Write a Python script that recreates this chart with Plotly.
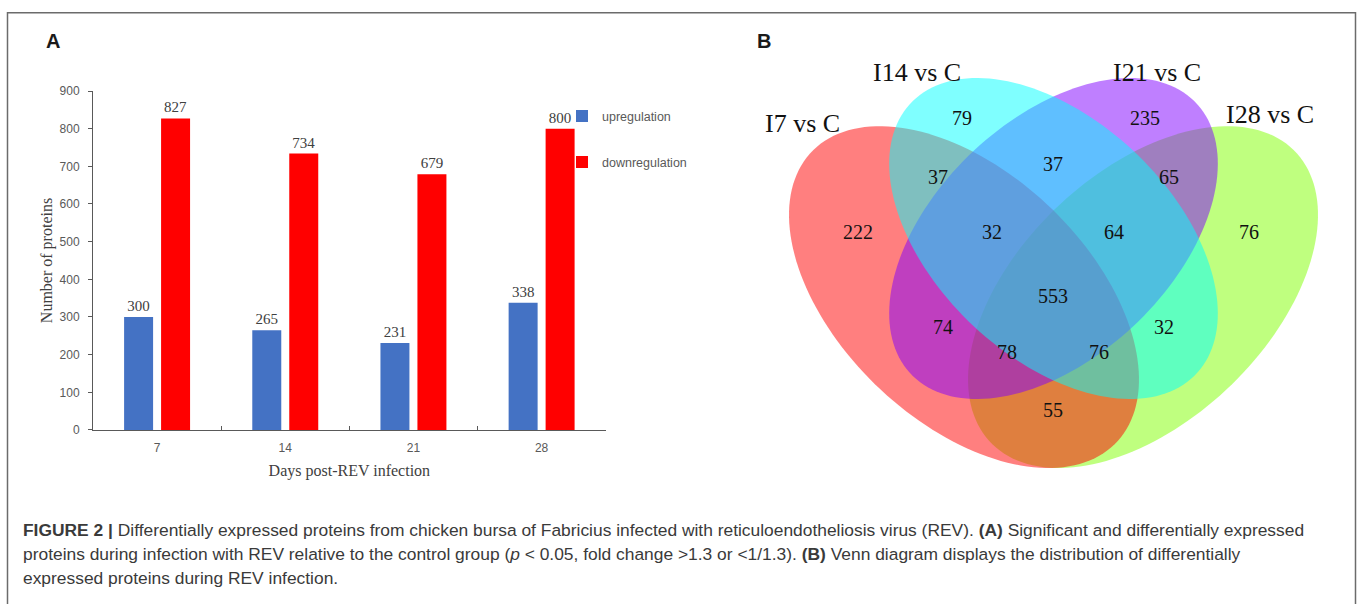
import numpy as np
import plotly.graph_objects as go

W, H = 1360, 604

# ---------------- data: panel A ----------------
days = ["7", "14", "21", "28"]
upregulation = [300, 265, 231, 338]
downregulation = [827, 734, 679, 800]
y_tick_values = [0, 100, 200, 300, 400, 500, 600, 700, 800, 900]

# ---------------- data: panel B (Venn) ----------------
venn_set_names = ["I7 vs C", "I14 vs C", "I21 vs C", "I28 vs C"]
venn_region_keys = ["I7", "I14", "I21", "I28",
                    "I7&I14", "I14&I21", "I21&I28",
                    "I7&I14&I21", "I14&I21&I28", "I7&I14&I21&I28",
                    "I7&I21", "I14&I28", "I7&I21&I28", "I7&I14&I28", "I7&I28"]
venn_region_counts = [222, 79, 235, 76,
                      37, 37, 65,
                      32, 64, 553,
                      74, 32, 78, 76, 55]

# ---------------- layout geometry (pixel space) ----------------
def px(x):
    return x / W


def py(y):
    return 1 - y / H


# ellipse geometry: centre x, centre y, semi-major, semi-minor, angle, colour
ellipse_geom = {
    "I28 vs C": (1143.0, 297.0, 213, 126, -45, "rgba(127,255,0,0.5)"),
    "I7 vs C": (964.0, 297.0, 213, 126, 45, "rgba(255,0,0,0.5)"),
    "I21 vs C": (1053.5, 237.0, 199, 120, -45, "rgba(128,0,255,0.5)"),
    "I14 vs C": (1053.5, 237.0, 199, 120, 45, "rgba(0,255,255,0.5)"),
}
set_label_pos = {
    "I7 vs C": (803, 119),
    "I14 vs C": (917, 67),
    "I21 vs C": (1157, 67),
    "I28 vs C": (1270, 110),
}
region_label_pos = {
    "I7": (858, 232), "I14": (962, 116), "I21": (1145, 116), "I28": (1249, 232),
    "I7&I14": (938, 176), "I14&I21": (1053, 163), "I21&I28": (1169, 176),
    "I7&I14&I21": (992, 232), "I14&I21&I28": (1114, 232), "I7&I14&I21&I28": (1053, 298),
    "I7&I21": (943, 330), "I14&I28": (1164, 330), "I7&I21&I28": (1007, 355),
    "I7&I14&I28": (1099, 355), "I7&I28": (1053, 415),
}


def ellipse_path(cx, cy, a, b, ang_deg, n=160):
    t = np.linspace(0, 2 * np.pi, n, endpoint=False)
    th = np.radians(ang_deg)
    xs = cx + a * np.cos(t) * np.cos(th) - b * np.sin(t) * np.sin(th)
    ys = cy + a * np.cos(t) * np.sin(th) + b * np.sin(t) * np.cos(th)
    pts = [f"{x:.2f},{y:.2f}" for x, y in zip(xs, ys)]
    return "M " + " L ".join(pts) + " Z"


SERIF = "Liberation Serif"
SANS = "Liberation Sans"
AXIS_GREY = "#595959"
TEXT_GREY = "#404040"

fig = go.Figure()

fig.add_trace(go.Bar(
    x=days, y=upregulation, name="upregulation",
    marker=dict(color="#4472C4", line=dict(width=0)),
    texttemplate="%{y}", textposition="outside", constraintext="none",
    textfont=dict(family=SERIF, size=15, color=TEXT_GREY),
    cliponaxis=False, legend="legend", hoverinfo="skip",
))
fig.add_trace(go.Bar(
    x=days, y=downregulation, name="downregulation",
    marker=dict(color="#FF0000", line=dict(width=0)),
    texttemplate="%{y}", textposition="outside", constraintext="none",
    textfont=dict(family=SERIF, size=15, color=TEXT_GREY),
    cliponaxis=False, legend="legend2", hoverinfo="skip",
))

# Venn counts
vx = [region_label_pos[k][0] for k in venn_region_keys]
vy = [region_label_pos[k][1] for k in venn_region_keys]
fig.add_trace(go.Scatter(
    x=vx, y=vy, mode="text", text=[str(c) for c in venn_region_counts],
    textfont=dict(family=SERIF, size=20, color="#111111"),
    xaxis="x2", yaxis="y2", showlegend=False, hoverinfo="skip",
))

shapes = []
for name in ["I28 vs C", "I7 vs C", "I21 vs C", "I14 vs C"]:
    cx, cy, a, b, ang, col = ellipse_geom[name]
    shapes.append(dict(type="path", xref="x2", yref="y2", path=ellipse_path(cx, cy, a, b, ang),
                       fillcolor=col, line=dict(width=0), layer="below"))

# outer frame
shapes.append(dict(type="rect", xref="paper", yref="paper",
                   x0=px(7.5), x1=px(1355.5), y0=-0.2, y1=py(6),
                   line=dict(color="#6b6b6b", width=1.5), fillcolor="rgba(0,0,0,0)"))

annotations = []
for name in venn_set_names:
    x, y = set_label_pos[name]
    annotations.append(dict(x=x, y=y, xref="x2", yref="y2", text=name, showarrow=False,
                            font=dict(family=SERIF, size=26, color="#111111"),
                            xanchor="center", yanchor="middle"))

annotations.append(dict(x=px(53), y=py(35), xref="paper", yref="paper", text="<b>A</b>",
                        showarrow=False, font=dict(family=SANS, size=20, color="#1a1a1a"),
                        xanchor="center", yanchor="middle"))
annotations.append(dict(x=px(764), y=py(35), xref="paper", yref="paper", text="<b>B</b>",
                        showarrow=False, font=dict(family=SANS, size=20, color="#1a1a1a"),
                        xanchor="center", yanchor="middle"))

caption_lines = [
    "<b>FIGURE 2 |</b> Differentially expressed proteins from chicken bursa of Fabricius infected with "
    "reticuloendotheliosis virus (REV). <b>(A)</b> Significant and differentially expressed",
    "proteins during infection with REV relative to the control group (<i>p</i> &lt; 0.05, fold change "
    "&gt;1.3 or &lt;1/1.3). <b>(B)</b> Venn diagram displays the distribution of differentially",
    "expressed proteins during REV infection.",
]
caption_y = [535, 560, 585]
for line, yy in zip(caption_lines, caption_y):
    annotations.append(dict(x=px(21), y=py(yy), xref="paper", yref="paper", text=line,
                            showarrow=False, font=dict(family=SANS, size=17.4, color="#3a3a3a"),
                            xanchor="left", yanchor="middle", align="left"))

fig.update_layout(
    width=W, height=H, autosize=False,
    margin=dict(l=0, r=0, t=0, b=0),
    paper_bgcolor="white", plot_bgcolor="rgba(0,0,0,0)",
    barmode="group", bargap=0.423, bargroupgap=0.216,
    xaxis=dict(
        domain=[px(93), px(605.7)], type="category", categoryorder="array", categoryarray=days,
        showline=True, linecolor=AXIS_GREY, linewidth=1,
        ticks="inside", ticklen=4, tickcolor=AXIS_GREY, tickson="boundaries",
        tickfont=dict(family=SANS, size=12, color=AXIS_GREY), ticklabelstandoff=7,
        showgrid=False, zeroline=False, fixedrange=True,
        title=dict(text="Days post-REV infection", font=dict(family=SERIF, size=16, color=TEXT_GREY),
                   standoff=10),
    ),
    yaxis=dict(
        domain=[py(433), py(86)], range=[0, 900], tickvals=y_tick_values,
        showline=True, linecolor=AXIS_GREY, linewidth=1,
        ticks="outside", ticklen=4, tickcolor=AXIS_GREY,
        tickfont=dict(family=SANS, size=12, color=AXIS_GREY), ticklabelstandoff=6,
        showgrid=False, zeroline=False, fixedrange=True,
        title=dict(text="Number of proteins", font=dict(family=SERIF, size=16, color=TEXT_GREY),
                   standoff=2),
    ),
    xaxis2=dict(domain=[px(740), 1], range=[740, 1360], visible=False, fixedrange=True, anchor="y2"),
    yaxis2=dict(domain=[py(490), 1], range=[490, 0], visible=False, fixedrange=True, anchor="x2"),
    legend=dict(x=px(562), y=py(112), xanchor="left", yanchor="middle",
                font=dict(family=SANS, size=12.5, color=AXIS_GREY), bgcolor="rgba(0,0,0,0)"),
    legend2=dict(x=px(562), y=py(159), xanchor="left", yanchor="middle",
                 font=dict(family=SANS, size=12.5, color=AXIS_GREY), bgcolor="rgba(0,0,0,0)"),
    shapes=shapes,
    annotations=annotations,
    showlegend=True,
)

fig.write_html(
    "out.html",
    config={"displayModeBar": False, "staticPlot": True},
    post_script="document.body.style.margin='0';document.body.style.padding='0';"
                "document.body.style.overflow='hidden';",
)
